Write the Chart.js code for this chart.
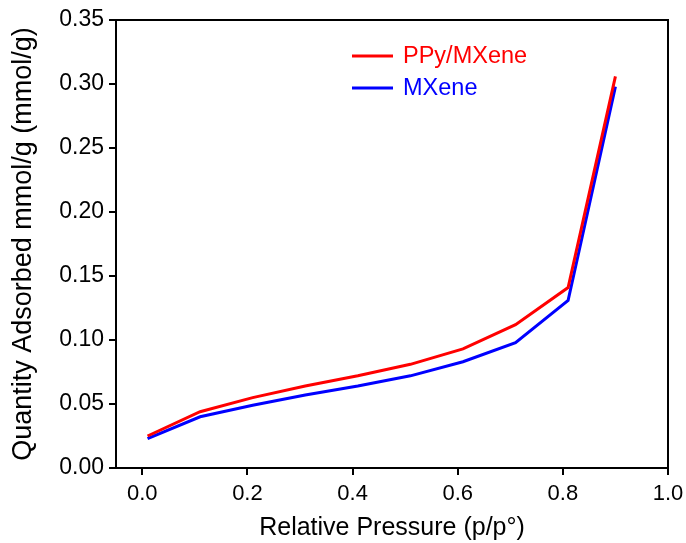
<!DOCTYPE html>
<html>
<head>
<meta charset="utf-8">
<script src="https://cdn.jsdelivr.net/npm/chart.js@4.4.1/dist/chart.umd.min.js"></script>
<style>
    html, body { margin: 0; padding: 0; background: #fff; }
    #wrap { width: 686px; height: 543px; }
</style>
</head>
<body>
<div id="wrap"><canvas id="isothermChart"></canvas></div>
<script>
const pressure = [0.01, 0.11, 0.21, 0.31, 0.41, 0.51, 0.61, 0.71, 0.81, 0.90];
const ppyMxene = [0.025, 0.044, 0.055, 0.064, 0.072, 0.081, 0.093, 0.112, 0.141, 0.306];
const mxene = [0.023, 0.040, 0.049, 0.057, 0.064, 0.072, 0.083, 0.098, 0.131, 0.298];
const xTicks = [0.0, 0.2, 0.4, 0.6, 0.8, 1.0];
const yTicks = [0.00, 0.05, 0.10, 0.15, 0.20, 0.25, 0.30, 0.35];

const FONT = "'Liberation Sans', Arial, sans-serif";

const toPoints = (ys) => ys.map((y, i) => ({ x: pressure[i], y: y }));

// box round the plot area
const frame = {
    id: 'frame',
    afterDraw(chart) {
        const { ctx, chartArea } = chart;
        ctx.save();
        ctx.strokeStyle = '#000';
        ctx.lineWidth = 2;
        ctx.strokeRect(chartArea.left, chartArea.top, chartArea.right - chartArea.left, chartArea.bottom - chartArea.top);
        ctx.restore();
    }
};

// legend inside the plot, text in the series colour
const innerLegend = {
    id: 'innerLegend',
    afterDraw(chart) {
        const ctx = chart.ctx;
        ctx.save();
        ctx.font = '23.5px ' + FONT;
        ctx.textBaseline = 'middle';
        chart.data.datasets.forEach((ds, i) => {
            const y = 56 + i * 32;
            ctx.strokeStyle = ds.borderColor;
            ctx.lineWidth = 3;
            ctx.beginPath();
            ctx.moveTo(352, y);
            ctx.lineTo(393, y);
            ctx.stroke();
            ctx.fillStyle = ds.borderColor;
            ctx.fillText(ds.label, 403, y + 1);
        });
        ctx.restore();
    }
};

new Chart(document.getElementById('isothermChart'), {
    type: 'line',
    data: {
        datasets: [
            {
                label: 'PPy/MXene',
                data: toPoints(ppyMxene),
                borderColor: 'rgb(255 0 0)',
                borderWidth: 3,
                pointRadius: 0,
                fill: false,
                tension: 0
            },
            {
                label: 'MXene',
                data: toPoints(mxene),
                borderColor: 'rgb(0 0 255)',
                borderWidth: 3,
                pointRadius: 0,
                fill: false,
                tension: 0
            }
        ]
    },
    options: {
        responsive: true,
        maintainAspectRatio: false,
        animation: false,
        layout: { padding: { top: 20, right: 18, left: 0, bottom: 0 } },
        plugins: {
            legend: { display: false },
            tooltip: { enabled: false }
        },
        scales: {
            x: {
                type: 'linear',
                min: -0.05,
                max: 1.0,
                afterBuildTicks: (scale) => { scale.ticks = xTicks.map(v => ({ value: v })); },
                afterFit: (scale) => {
                    scale.height = 75;
                    scale.paddingLeft = 0;
                    scale.paddingRight = 0;
                },
                grid: { display: true, drawOnChartArea: false, drawTicks: true, tickLength: 7, color: '#000', lineWidth: 2 },
                border: { display: true, color: '#000', width: 2 },
                ticks: {
                    color: '#000',
                    padding: 6,
                    font: { family: FONT, size: 22 },
                    callback: (v) => v.toFixed(1)
                },
                title: {
                    display: true,
                    text: 'Relative Pressure (p/p°)',
                    color: '#000',
                    font: { family: FONT, size: 25 },
                    padding: { top: 4, bottom: 0 }
                }
            },
            y: {
                min: 0,
                max: 0.35,
                afterBuildTicks: (scale) => { scale.ticks = yTicks.map(v => ({ value: v })); },
                afterFit: (scale) => {
                    scale.width = 116;
                    scale.paddingTop = 0;
                    scale.paddingBottom = 0;
                },
                grid: { display: true, drawOnChartArea: false, drawTicks: true, tickLength: 7, color: '#000', lineWidth: 2 },
                border: { display: true, color: '#000', width: 2 },
                ticks: {
                    color: '#000',
                    padding: 5,
                    font: { family: FONT, size: 23 },
                    callback: (v) => v.toFixed(2)
                },
                title: {
                    display: true,
                    text: 'Quantity Adsorbed mmol/g (mmol/g)',
                    color: '#000',
                    font: { family: FONT, size: 27 },
                    padding: { top: 7, bottom: 0 }
                }
            }
        }
    },
    plugins: [frame, innerLegend]
});
</script>
</body>
</html>
